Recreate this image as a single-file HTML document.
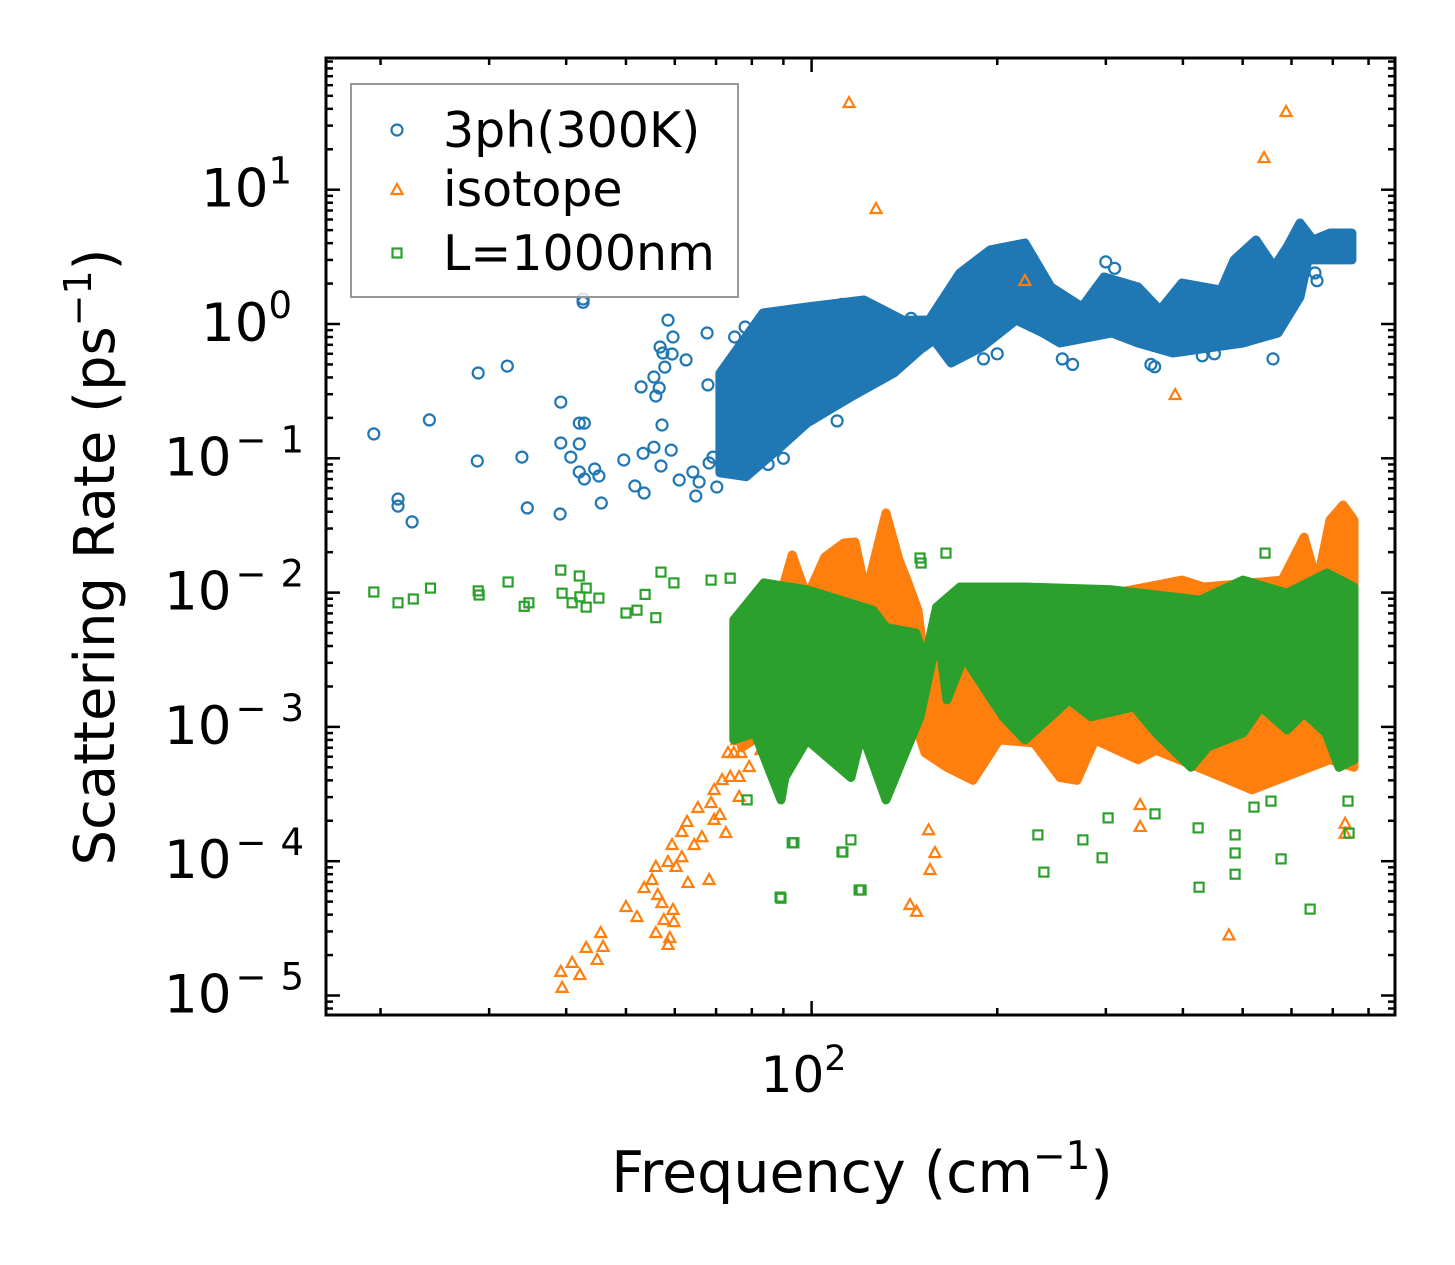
<!DOCTYPE html>
<html><head><meta charset="utf-8"><style>
html,body{margin:0;padding:0;background:#fff;}
svg{display:block;font-family:"DejaVu Sans","Liberation Sans",sans-serif;}
</style></head><body>
<svg id="chart" width="1455" height="1265" viewBox="0 0 1455 1265" xmlns="http://www.w3.org/2000/svg">
<rect width="1455" height="1265" fill="#fff"/>
<defs><clipPath id="pc"><rect x="326" y="58" width="1069" height="957"/></clipPath></defs>
<g id="plot" clip-path="url(#pc)"></g>
<g id="axes"></g>
<g>
  <rect x="351" y="84" width="387" height="213" fill="#fff" fill-opacity="0.8" stroke="#999" stroke-width="2"/>
  <g>
    <circle cx="397" cy="130" r="5.5" fill="none" stroke="#1f77b4" stroke-width="2.2"/>
    <text x="443" y="147" font-size="49" fill="#000">3ph(300K)</text>
  </g>
  <g>
    <polygon points="397,184 402.5,194 391.5,194" fill="none" stroke="#ff7f0e" stroke-width="2.2"/>
    <text x="443" y="206" font-size="49" fill="#000">isotope</text>
  </g>
  <g>
    <rect x="392.5" y="248.5" width="9" height="9" fill="none" stroke="#2ca02c" stroke-width="2.2"/>
    <text x="443" y="270" font-size="49" fill="#000">L=1000nm</text>
  </g>
</g>
<text x="862" y="1192" font-size="57" text-anchor="middle">Frequency (cm<tspan dy="-23" font-size="39">−1</tspan><tspan dy="23">)</tspan></text>
<text transform="translate(114,557) rotate(-90)" font-size="56" text-anchor="middle">Scattering Rate (ps<tspan dy="-23" font-size="38">−1</tspan><tspan dy="23">)</tspan></text>
</svg>
<script>
// ---- data (frequency in cm^-1, rate in ps^-1) ----
const blueBandHiF=[71,83.4,98.3,121.6,140.7,155,174,194.7,221.8,244.4,274.5,298,338.3,367.2,398.7,461.2,484.2,525.6,562.2,590.1,619.4,650.2,692.8,751.9];
const blueBandHiV=[0.43,1.21,1.34,1.51,1.07,1.07,2.4,3.56,4.01,1.89,1.34,2.24,1.89,1.27,2.02,1.79,3.0,4.22,2.66,3.74,5.65,4.22,4.76,4.76];
const blueBandLoF=[71,78.3,87.9,98.3,115.8,136,149.9,157.9,168.3,188.9,214.6,237.2,252.8,307,338.3,385.5,500.7,570.6,619.4,638.2,751.9];
const blueBandLoV=[0.078,0.073,0.115,0.183,0.286,0.432,0.64,0.76,0.512,0.674,1.07,0.857,0.722,0.857,0.722,0.608,0.722,0.857,1.59,3.0,3.0];
const blueF=[19.5,21.35,21.35,22.5,24.0,28.8,32.1,28.7,33.9,34.6,39.2,39.2,39.1,42.0,42.8,42.0,40.7,42.0,42.8,44.5,45.2,45.6,42.6,42.6,49.6,51.7,53.5,52.9,55.5,56.6,55.9,57.8,56.8,57.4,59.4,58.5,59.6,62.6,57.2,53.3,55.5,57.0,59.2,61.0,64.9,65.7,64.2,67.7,70.2,68.2,69.2,67.9,75,78,90,95,112,120,130,145,190,200,215,255,265,300,310,355,360,430,450,560,660,655,100,110,85,78,90];
const blueV=[0.152,0.0498,0.0441,0.0336,0.193,0.432,0.486,0.0955,0.102,0.0427,0.262,0.130,0.0385,0.183,0.183,0.128,0.102,0.0791,0.0701,0.0832,0.0738,0.0465,1.535,1.45,0.0971,0.0622,0.0552,0.340,0.403,0.334,0.291,0.478,0.674,0.608,0.598,1.07,0.800,0.540,0.177,0.109,0.121,0.0877,0.115,0.0689,0.0524,0.0666,0.0791,0.857,0.0611,0.0923,0.102,0.352,0.8,0.95,1.0,1.1,1.4,1.3,1.2,1.1,0.55,0.6,2.8,0.55,0.5,2.9,2.6,0.5,0.48,0.58,0.6,0.55,2.1,2.4,0.2,0.19,0.09,0.08,0.1];
const orangeBandHiF=[77,87.9,93,98.3,105.1,112.8,117.6,122.5,132,138.6,142.8,148.8,152.7,160.3,398.7,432.8,579.3,629,660.3,692.8,727.6,757.6];
const orangeBandHiV=[5e-3,7.8e-3,0.0191,9.3e-3,0.0184,0.0234,0.0238,9.9e-3,0.0392,0.0175,0.0124,7.4e-3,2.8e-3,5.5e-3,0.0124,0.011,0.0124,0.0259,0.0118,0.0347,0.0449,0.0347];
const orangeBandLoF=[757.6,692.8,517.8,447.6,361.9,338.3,288.1,269.4,252.8,229.4,201.4,182.7,165.8,152.7,145.5,115.8,83.7,77];
const orangeBandLoV=[5e-4,5.7e-4,3.4e-4,4.5e-4,6.7e-4,5.7e-4,8e-4,4e-4,4.2e-4,7.6e-4,8e-4,4e-4,5e-4,6.4e-4,1.27e-3,1.0e-3,9e-4,7e-4];
const orangeF=[115,127.2,221.8,388.6,541.6,588,475,39.4,39.2,42.1,40.9,43.1,45.5,45.9,44.9,50.0,52.1,53.5,55.9,55.1,56.3,57.2,55.9,58.5,58.9,57.6,59.8,59.6,58.5,59.4,61.6,62.8,60.3,61.6,63.0,68.2,64.5,66.4,65.4,68.7,69.5,69.5,72.6,71.0,71.6,73.8,74.8,73.2,76.3,76.3,79.2,76.8,82.8,75.7,78.0,144.4,148,155.6,158.5,154.8,341,341,733,733];
const orangeV=[44.2,7.18,2.09,0.296,17.2,37.9,2.8e-5,1.14e-5,1.5e-5,1.42e-5,1.75e-5,2.26e-5,2.92e-5,2.3e-5,1.84e-5,4.56e-5,3.84e-5,6.31e-5,9.06e-5,7.24e-5,5.6e-5,4.88e-5,2.92e-5,2.38e-5,2.68e-5,3.65e-5,3.52e-5,4.34e-5,9.86e-5,1.32e-4,1.65e-4,1.96e-4,9.06e-5,1.07e-4,6.88e-5,7.24e-5,1.32e-4,1.51e-4,2.49e-4,2.71e-4,3.39e-4,2.03e-4,1.62e-4,2.21e-4,4.02e-4,4.24e-4,6.39e-4,6.39e-4,4.24e-4,3.01e-4,5.03e-4,6.39e-4,6.73e-4,7.98e-4,9.48e-4,4.72e-5,4.2e-5,8.6e-5,1.15e-4,1.7e-4,2.62e-4,1.8e-4,1.9e-4,1.6e-4];
const greenBandHiF=[74.8,83.7,98.3,125.8,132,147.6,152.7,159.5,174,221.8,307,426.5,500.7,590.1,685.2,757.6];
const greenBandHiV=[6.25e-3,0.0118,0.0105,7.4e-3,5.5e-3,5.0e-3,3.15e-3,7.8e-3,0.011,0.011,0.0105,8.8e-3,0.0124,9.9e-3,0.014,0.011];
const greenBandLoF=[757.6,716.5,682.6,629,590.1,535.5,500.7,439.3,412.3,361.9,333.3,283.9,261.5,221.8,204.4,176.5,165.8,160.3,149.9,132,120.7,115.8,98.3,90.5,89.2,80.9,74.8];
const greenBandLoV=[5.7e-4,5.0e-4,9.0e-4,1.27e-3,9.5e-4,1.41e-3,9.0e-4,7.1e-4,5.0e-4,9.0e-4,1.41e-3,1.19e-3,1.59e-3,8.0e-4,1.19e-3,3.31e-3,1.59e-3,5.0e-3,1.19e-3,2.86e-4,9.0e-4,4.2e-4,8.0e-4,4.2e-4,2.86e-4,9.0e-4,8.0e-4];
const greenF=[19.5,21.35,22.6,24.1,28.8,28.9,32.2,34.2,34.8,39.2,42.0,39.4,42.1,43.1,40.9,43.1,45.2,50.0,52.1,55.9,57.0,59.8,53.7,68.7,73.8,78.6,89.2,120.3,93.6,112.4,150.5,93.0,88.9,119.4,112.0,115.8,232.8,238.1,275.4,295.8,302.5,360.5,424.9,423.3,486.1,486.1,486.1,577.1,643.3,744,555.9,521.7,149.9,165.2,543.5,741];
const greenV=[0.0101,8.4e-3,8.96e-3,0.0108,0.0103,9.6e-3,0.012,7.9e-3,8.4e-3,0.0147,0.0133,9.9e-3,9.3e-3,0.0108,8.4e-3,7.8e-3,9.1e-3,7.05e-3,7.4e-3,6.5e-3,0.0142,0.0118,9.7e-3,0.0124,0.0128,2.86e-4,5.3e-5,6.1e-5,1.37e-4,1.17e-4,0.0166,1.37e-4,5.4e-5,6.1e-5,1.17e-4,1.44e-4,1.57e-4,8.3e-5,1.44e-4,1.06e-4,2.1e-4,2.25e-4,6.4e-5,1.77e-4,1.57e-4,1.15e-4,8.0e-5,1.04e-4,4.4e-5,1.62e-4,2.8e-4,2.53e-4,0.0181,0.0197,0.0197,2.8e-4];
const yTickExps=[1,0,-1,-2,-3,-4,-5];
const xTickExps=[2];
const xMinorVals=[20,30,40,50,60,70,80,90,200,300,400,500,600,700,800];

// ---- axis functions ----
const X0=326,X1=1395,Y0=58,Y1=1015;
function xs(f){return 811.6+616.7*Math.log10(f/100);}
function ys(v){return 324-134.3*Math.log10(v);}
const NS="http://www.w3.org/2000/svg";
const plot=document.getElementById('plot'), axes=document.getElementById('axes');
function mk(tag,attrs,parent){const e=document.createElementNS(NS,tag);for(const k in attrs)e.setAttribute(k,attrs[k]);parent.appendChild(e);return e;}

function band(hiF,hiV,loF,loV,color,name){
  const hi=hiF.map((f,i)=>[f,hiV[i]]).sort((a,b)=>a[0]-b[0]);
  const lo=loF.map((f,i)=>[f,loV[i]]).sort((a,b)=>b[0]-a[0]);
  const pts=hi.concat(lo).map(p=>xs(p[0]).toFixed(1)+','+ys(p[1]).toFixed(1));
  const p=mk('polygon',{points:pts.join(' '),fill:color,stroke:color,'stroke-width':9,'stroke-linejoin':'round'},plot);
  
  
}
function circles(F,V){
  const g=mk('g',{},plot);
  
  
  for(let i=0;i<F.length;i++){
    const c=mk('circle',{cx:xs(F[i]).toFixed(1),cy:ys(V[i]).toFixed(1),r:5.5,fill:'none',stroke:'#1f77b4','stroke-width':2.2},g);
    
    
  }
}
function tris(F,V){
  const g=mk('g',{},plot);
  
  
  for(let i=0;i<F.length;i++){
    const x=xs(F[i]),y=ys(V[i]);
    const t=mk('polygon',{points:`${x},${y-6} ${x+5.5},${y+4} ${x-5.5},${y+4}`,fill:'none',stroke:'#ff7f0e','stroke-width':2.2},g);
    
    
  }
}
function squares(F,V){
  const g=mk('g',{},plot);
  
  
  for(let i=0;i<F.length;i++){
    const s=mk('rect',{x:(xs(F[i])-4.5).toFixed(1),y:(ys(V[i])-4.5).toFixed(1),width:9,height:9,fill:'none',stroke:'#2ca02c','stroke-width':2.2},g);
    
    
  }
}
band(blueBandHiF,blueBandHiV,blueBandLoF,blueBandLoV,'#1f77b4','3ph-dense-band');
circles(blueF,blueV);
band(orangeBandHiF,orangeBandHiV,orangeBandLoF,orangeBandLoV,'#ff7f0e','isotope-dense-band');
tris(orangeF,orangeV);
band(greenBandHiF,greenBandHiV,greenBandLoF,greenBandLoV,'#2ca02c','boundary-dense-band');
squares(greenF,greenV);

// ---- axes ----
const frame=mk('rect',{x:X0,y:Y0,width:X1-X0,height:Y1-Y0,fill:'none',stroke:'#000','stroke-width':3},axes);


for(let e=-6;e<=2;e++){
  for(let m=1;m<10;m++){
    const y=ys(m*Math.pow(10,e));
    if(y<Y0+1||y>Y1-1)continue;
    const L=m===1?14:7;
    mk('line',{x1:X0,x2:X0+L,y1:y,y2:y,stroke:'#000','stroke-width':2.5},axes);
    mk('line',{x1:X1,x2:X1-L,y1:y,y2:y,stroke:'#000','stroke-width':2.5},axes);
  }
}
yTickExps.forEach(e=>{
  const y=ys(Math.pow(10,e));
  const t=mk('text',{x:e<0?318:292,y:y+17,'font-size':53,'text-anchor':'end'},axes);
  
  
  const a=document.createElementNS(NS,'tspan');a.textContent='10';t.appendChild(a);
  const b=document.createElementNS(NS,'tspan');b.setAttribute('dy','-23');b.setAttribute('font-size','37');
  if(e<0){b.setAttribute('dx','4');b.setAttribute('letter-spacing','14');}
  b.textContent=e<0?'−'+(-e):String(e);t.appendChild(b);
});
xMinorVals.forEach(f=>{
  const x=xs(f);
  mk('line',{x1:x,x2:x,y1:Y1,y2:Y1-7,stroke:'#000','stroke-width':2.5},axes);
  mk('line',{x1:x,x2:x,y1:Y0,y2:Y0+7,stroke:'#000','stroke-width':2.5},axes);
});
xTickExps.forEach(e=>{
  const x=xs(Math.pow(10,e));
  mk('line',{x1:x,x2:x,y1:Y1,y2:Y1-14,stroke:'#000','stroke-width':2.5},axes);
  mk('line',{x1:x,x2:x,y1:Y0,y2:Y0+14,stroke:'#000','stroke-width':2.5},axes);
  const t=mk('text',{x:x-8,y:1092,'font-size':50,'text-anchor':'middle'},axes);
  
  
  const a=document.createElementNS(NS,'tspan');a.textContent='10';t.appendChild(a);
  const b=document.createElementNS(NS,'tspan');b.setAttribute('dy','-22');b.setAttribute('font-size','35');b.textContent=String(e);t.appendChild(b);
});
</script>
</body></html>
